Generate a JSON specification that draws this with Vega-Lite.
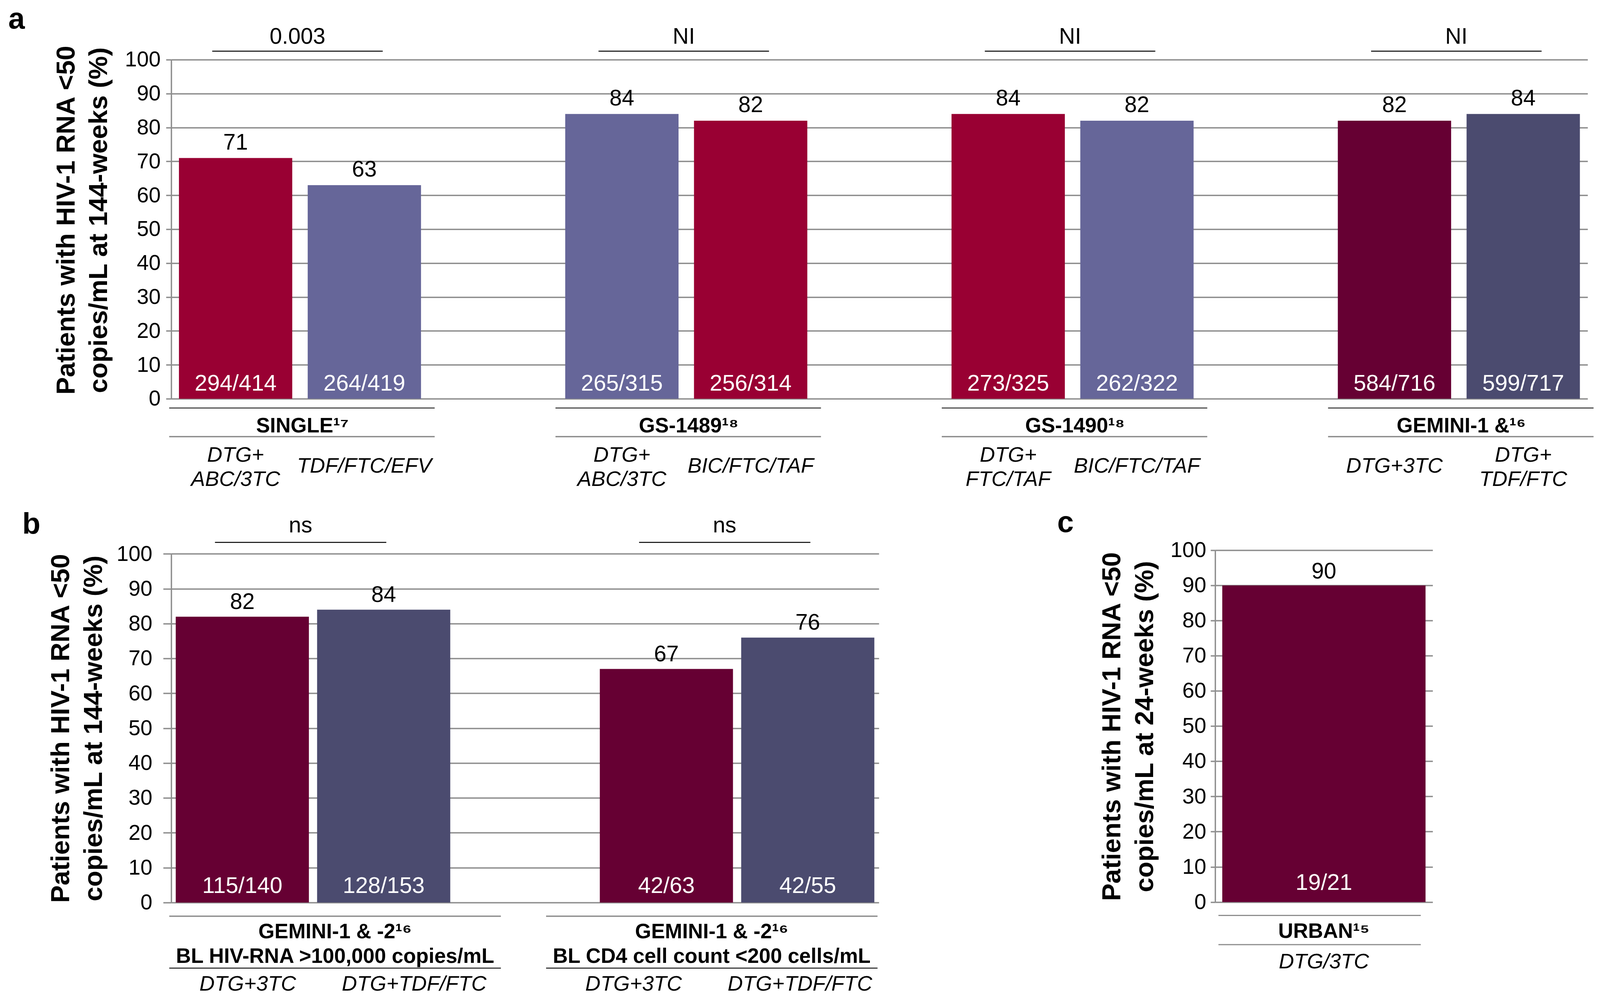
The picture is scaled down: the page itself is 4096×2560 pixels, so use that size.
{
  "$schema": "https://vega.github.io/schema/vega-lite/v6.json",
  "autosize": {"type": "none"},
  "padding": {"left": 438.3, "top": 152.8, "right": 3657.7, "bottom": 2407.2},
  "config": {"view": {"stroke": null}, "text": {"font": "Liberation Sans"}, "title": {"font": "Liberation Sans"}},
  "resolve": {"scale": {"color": "independent"}},
  "datasets": {
    "a_bars": [
      {"id": "SINGLE DTG+ABC/3TC", "grp": "SINGLE", "treat": ["DTG+", "ABC/3TC"], "pct": 71, "n": "294/414"},
      {"id": "SINGLE TDF/FTC/EFV", "grp": "SINGLE", "treat": "TDF/FTC/EFV", "pct": 63, "n": "264/419"},
      {"id": "GS-1489 DTG+ABC/3TC", "grp": "GS-1489", "treat": ["DTG+", "ABC/3TC"], "pct": 84, "n": "265/315"},
      {"id": "GS-1489 BIC/FTC/TAF", "grp": "GS-1489", "treat": "BIC/FTC/TAF", "pct": 82, "n": "256/314"},
      {"id": "GS-1490 DTG+FTC/TAF", "grp": "GS-1490", "treat": ["DTG+", "FTC/TAF"], "pct": 84, "n": "273/325"},
      {"id": "GS-1490 BIC/FTC/TAF", "grp": "GS-1490", "treat": "BIC/FTC/TAF", "pct": 82, "n": "262/322"},
      {"id": "GEMINI-1 DTG+3TC", "grp": "GEMINI-1 &", "treat": "DTG+3TC", "pct": 82, "n": "584/716"},
      {"id": "GEMINI-1 DTG+TDF/FTC", "grp": "GEMINI-1 &", "treat": ["DTG+", "TDF/FTC"], "pct": 84, "n": "599/717"}
    ],
    "a_groups": [
      {"grp": "SINGLE", "label": "SINGLE¹⁷", "a": "SINGLE DTG+ABC/3TC", "b": "SINGLE TDF/FTC/EFV", "test": "0.003"},
      {"grp": "GS-1489", "label": "GS-1489¹⁸", "a": "GS-1489 DTG+ABC/3TC", "b": "GS-1489 BIC/FTC/TAF", "test": "NI"},
      {"grp": "GS-1490", "label": "GS-1490¹⁸", "a": "GS-1490 DTG+FTC/TAF", "b": "GS-1490 BIC/FTC/TAF", "test": "NI"},
      {"grp": "GEMINI-1 &", "label": "GEMINI-1 &¹⁶", "a": "GEMINI-1 DTG+3TC", "b": "GEMINI-1 DTG+TDF/FTC", "test": "NI"}
    ],
    "b_bars": [
      {"id": "HIV DTG+3TC", "grp": "HIV", "treat": "DTG+3TC", "pct": 82, "n": "115/140"},
      {"id": "HIV DTG+TDF/FTC", "grp": "HIV", "treat": "DTG+TDF/FTC", "pct": 84, "n": "128/153"},
      {"id": "CD4 DTG+3TC", "grp": "CD4", "treat": "DTG+3TC", "pct": 67, "n": "42/63"},
      {"id": "CD4 DTG+TDF/FTC", "grp": "CD4", "treat": "DTG+TDF/FTC", "pct": 76, "n": "42/55"}
    ],
    "b_groups": [
      {"grp": "HIV", "label": ["GEMINI-1 & -2¹⁶", "BL HIV-RNA >100,000 copies/mL"], "a": "HIV DTG+3TC", "b": "HIV DTG+TDF/FTC", "test": "ns"},
      {"grp": "CD4", "label": ["GEMINI-1 & -2¹⁶", "BL CD4 cell count <200 cells/mL"], "a": "CD4 DTG+3TC", "b": "CD4 DTG+TDF/FTC", "test": "ns"}
    ],
    "c_bars": [
      {"id": "URBAN DTG/3TC", "grp": "URBAN", "label": "URBAN¹⁵", "treat": "DTG/3TC", "pct": 90, "n": "19/21"}
    ]
  },
  "spacing": 387.8,
  "bounds": "flush",
  "vconcat": [
    {
      "width": 3626,
      "height": 868,
      "title": {"text": "a", "anchor": "start", "frame": "group", "dx": -417, "dy": 83, "offset": 0, "baseline": "alphabetic", "fontSize": 76, "fontWeight": "bold", "color": "#000000"},
      "layer": [
        {
          "data": {"name": "a_bars"},
          "mark": {"type": "bar"},
          "encoding": {
            "x": {"field": "id", "type": "nominal", "axis": null, "scale": {"domain": ["SINGLE DTG+ABC/3TC", "SINGLE TDF/FTC/EFV", "gap1", "GS-1489 DTG+ABC/3TC", "GS-1489 BIC/FTC/TAF", "gap2", "GS-1490 DTG+FTC/TAF", "GS-1490 BIC/FTC/TAF", "gap3", "GEMINI-1 DTG+3TC", "GEMINI-1 DTG+TDF/FTC"], "paddingInner": 0.12, "paddingOuter": 0.06}},
            "y": {"field": "pct", "type": "quantitative", "scale": {"domain": [0, 100]},
              "axis": {"values": [0, 10, 20, 30, 40, 50, 60, 70, 80, 90, 100], "grid": true, "gridColor": "#8e8e8e", "gridWidth": 3.5, "domainColor": "#8e8e8e", "domainWidth": 3.5, "tickColor": "#8e8e8e", "tickWidth": 3.5, "tickSize": 13.4, "labelFontSize": 55, "labelFont": "Liberation Sans", "labelColor": "#000000", "labelPadding": 14,
                "title": ["Patients with HIV-1 RNA <50", "copies/mL at 144-weeks (%)"], "titleFont": "Liberation Sans", "titleFontSize": 67, "titleFontWeight": "bold", "titleColor": "#000000", "titleLineHeight": 83, "titleX": -268.3, "titleY": 410.5, "titleBaseline": "middle", "titleAlign": "center", "titleAngle": -90}},
            "color": {"field": "id", "type": "nominal", "legend": null, "scale": {"domain": ["SINGLE DTG+ABC/3TC", "SINGLE TDF/FTC/EFV", "GS-1489 DTG+ABC/3TC", "GS-1489 BIC/FTC/TAF", "GS-1490 DTG+FTC/TAF", "GS-1490 BIC/FTC/TAF", "GEMINI-1 DTG+3TC", "GEMINI-1 DTG+TDF/FTC"], "range": ["#990033", "#666699", "#666699", "#990033", "#990033", "#666699", "#660033", "#4b4b6f"]}}
          }
        },
        {
          "data": {"name": "a_bars"},
          "mark": {"type": "text", "dy": -22, "baseline": "alphabetic", "fontSize": 57, "color": "#000000"},
          "encoding": {
            "x": {"field": "id", "type": "nominal", "axis": null},
            "y": {"field": "pct", "type": "quantitative"},
            "text": {"field": "pct", "type": "quantitative"}
          }
        },
        {
          "data": {"name": "a_bars"},
          "mark": {"type": "text", "dy": -21, "baseline": "alphabetic", "fontSize": 58, "color": "#ffffff"},
          "encoding": {
            "x": {"field": "id", "type": "nominal", "axis": null},
            "y": {"datum": 0},
            "text": {"field": "n", "type": "nominal"}
          }
        },
        {
          "data": {"name": "a_bars"},
          "transform": [{"filter": "isArray(datum.treat)"}],
          "mark": {"type": "text", "dy": -23, "baseline": "middle", "fontSize": 54, "fontStyle": "italic", "lineHeight": 62, "color": "#000000"},
          "encoding": {
            "x": {"field": "id", "type": "nominal", "axis": null},
            "y": {"datum": -19.4},
            "text": {"field": "treat", "type": "nominal"}
          }
        },
        {
          "data": {"name": "a_bars"},
          "transform": [{"filter": "!isArray(datum.treat)"}],
          "mark": {"type": "text", "dy": 5, "baseline": "middle", "fontSize": 54, "fontStyle": "italic", "color": "#000000"},
          "encoding": {
            "x": {"field": "id", "type": "nominal", "axis": null},
            "y": {"datum": -19.4},
            "text": {"field": "treat", "type": "nominal"}
          }
        },
        {
          "data": {"name": "a_groups"},
          "mark": {"type": "rule", "xOffset": -59.8, "x2Offset": 47, "strokeWidth": 2.5, "color": "#000000"},
          "encoding": {
            "x": {"field": "a", "type": "nominal", "axis": null},
            "x2": {"field": "b"},
            "y": {"datum": 102.5}
          }
        },
        {
          "data": {"name": "a_groups"},
          "mark": {"type": "text", "xOffset": 158.5, "baseline": "alphabetic", "fontSize": 57, "color": "#000000"},
          "encoding": {
            "x": {"field": "a", "type": "nominal", "axis": null},
            "y": {"datum": 104.7},
            "text": {"field": "test", "type": "nominal"}
          }
        },
        {
          "data": {"name": "a_groups"},
          "mark": {"type": "rule", "xOffset": -170, "x2Offset": 180, "strokeWidth": 3, "color": "#505050"},
          "encoding": {
            "x": {"field": "a", "type": "nominal", "axis": null},
            "x2": {"field": "b"},
            "y": {"datum": -2.72}
          }
        },
        {
          "data": {"name": "a_groups"},
          "mark": {"type": "rule", "xOffset": -170, "x2Offset": 180, "strokeWidth": 3.5, "color": "#8e8e8e"},
          "encoding": {
            "x": {"field": "a", "type": "nominal", "axis": null},
            "x2": {"field": "b"},
            "y": {"datum": -11.16}
          }
        },
        {
          "data": {"name": "a_groups"},
          "mark": {"type": "text", "xOffset": 171, "baseline": "alphabetic", "fontSize": 53, "fontWeight": "bold", "color": "#000000"},
          "encoding": {
            "x": {"field": "a", "type": "nominal", "axis": null},
            "y": {"datum": -9.9},
            "text": {"field": "label", "type": "nominal"}
          }
        }
      ]
    },
    {
      "spacing": 860.5,
      "bounds": "flush",
      "hconcat": [
        {
          "width": 1811.6,
          "height": 901.9,
          "title": {"text": "b", "anchor": "start", "frame": "group", "dx": -381.3, "dy": 125, "offset": 0, "baseline": "alphabetic", "fontSize": 76, "fontWeight": "bold", "color": "#000000"},
          "layer": [
            {
              "data": {"name": "b_bars"},
              "mark": {"type": "bar"},
              "encoding": {
                "x": {"field": "id", "type": "nominal", "axis": null, "scale": {"domain": ["HIV DTG+3TC", "HIV DTG+TDF/FTC", "gap", "CD4 DTG+3TC", "CD4 DTG+TDF/FTC"], "paddingInner": 0.058, "paddingOuter": 0.032}},
                "y": {"field": "pct", "type": "quantitative", "scale": {"domain": [0, 100], "range": [901.9, 9.4]},
                  "axis": {"values": [0, 10, 20, 30, 40, 50, 60, 70, 80, 90, 100], "grid": true, "gridColor": "#8e8e8e", "gridWidth": 3.5, "domainColor": "#8e8e8e", "domainWidth": 3.5, "tickColor": "#8e8e8e", "tickWidth": 3.5, "tickSize": 20.6, "labelFontSize": 55, "labelFont": "Liberation Sans", "labelColor": "#000000", "labelPadding": 28,
                    "title": ["Patients with HIV-1 RNA <50", "copies/mL at 144-weeks (%)"], "titleFont": "Liberation Sans", "titleFontSize": 67, "titleFontWeight": "bold", "titleColor": "#000000", "titleLineHeight": 84, "titleX": -281.7, "titleY": 455.6, "titleBaseline": "middle", "titleAlign": "center", "titleAngle": -90}},
                "color": {"field": "id", "type": "nominal", "legend": null, "scale": {"domain": ["HIV DTG+3TC", "HIV DTG+TDF/FTC", "CD4 DTG+3TC", "CD4 DTG+TDF/FTC"], "range": ["#660033", "#4b4b6f", "#660033", "#4b4b6f"]}}
              }
            },
            {
              "data": {"name": "b_bars"},
              "mark": {"type": "text", "dy": -20, "baseline": "alphabetic", "fontSize": 57, "color": "#000000"},
              "encoding": {
                "x": {"field": "id", "type": "nominal", "axis": null},
                "y": {"field": "pct", "type": "quantitative"},
                "text": {"field": "pct", "type": "quantitative"}
              }
            },
            {
              "data": {"name": "b_bars"},
              "mark": {"type": "text", "dy": -25, "baseline": "alphabetic", "fontSize": 58, "color": "#ffffff"},
              "encoding": {
                "x": {"field": "id", "type": "nominal", "axis": null},
                "y": {"datum": 0},
                "text": {"field": "n", "type": "nominal"}
              }
            },
            {
              "data": {"name": "b_bars"},
              "transform": [{"filter": "datum.id == 'HIV DTG+3TC'"}],
              "mark": {"type": "text", "xOffset": 14, "baseline": "middle", "fontSize": 54, "fontStyle": "italic", "color": "#000000"},
              "encoding": {
                "x": {"field": "id", "type": "nominal", "axis": null},
                "y": {"datum": -23.5},
                "text": {"field": "treat", "type": "nominal"}
              }
            },
            {
              "data": {"name": "b_bars"},
              "transform": [{"filter": "datum.id == 'HIV DTG+TDF/FTC'"}],
              "mark": {"type": "text", "xOffset": 78, "baseline": "middle", "fontSize": 54, "fontStyle": "italic", "color": "#000000"},
              "encoding": {
                "x": {"field": "id", "type": "nominal", "axis": null},
                "y": {"datum": -23.5},
                "text": {"field": "treat", "type": "nominal"}
              }
            },
            {
              "data": {"name": "b_bars"},
              "transform": [{"filter": "datum.id == 'CD4 DTG+3TC'"}],
              "mark": {"type": "text", "xOffset": -84, "baseline": "middle", "fontSize": 54, "fontStyle": "italic", "color": "#000000"},
              "encoding": {
                "x": {"field": "id", "type": "nominal", "axis": null},
                "y": {"datum": -23.5},
                "text": {"field": "treat", "type": "nominal"}
              }
            },
            {
              "data": {"name": "b_bars"},
              "transform": [{"filter": "datum.id == 'CD4 DTG+TDF/FTC'"}],
              "mark": {"type": "text", "xOffset": -20, "baseline": "middle", "fontSize": 54, "fontStyle": "italic", "color": "#000000"},
              "encoding": {
                "x": {"field": "id", "type": "nominal", "axis": null},
                "y": {"datum": -23.5},
                "text": {"field": "treat", "type": "nominal"}
              }
            },
            {
              "data": {"name": "b_groups"},
              "mark": {"type": "rule", "xOffset": -70, "x2Offset": 6.7, "strokeWidth": 2.5, "color": "#000000"},
              "encoding": {
                "x": {"field": "a", "type": "nominal", "axis": null},
                "x2": {"field": "b"},
                "y": {"datum": 103.3}
              }
            },
            {
              "data": {"name": "b_groups"},
              "mark": {"type": "text", "xOffset": 149, "baseline": "alphabetic", "fontSize": 57, "color": "#000000"},
              "encoding": {
                "x": {"field": "a", "type": "nominal", "axis": null},
                "y": {"datum": 106.2},
                "text": {"field": "test", "type": "nominal"}
              }
            },
            {
              "data": {"name": "b_groups"},
              "transform": [{"filter": "datum.grp == 'HIV'"}],
              "mark": {"type": "rule", "xOffset": -187, "x2Offset": 300, "strokeWidth": 3.5, "color": "#8e8e8e"},
              "encoding": {
                "x": {"field": "a", "type": "nominal", "axis": null},
                "x2": {"field": "b"},
                "y": {"datum": -3.93}
              }
            },
            {
              "data": {"name": "b_groups"},
              "transform": [{"filter": "datum.grp == 'HIV'"}],
              "mark": {"type": "rule", "xOffset": -187, "x2Offset": 300, "strokeWidth": 2.2, "color": "#000000"},
              "encoding": {
                "x": {"field": "a", "type": "nominal", "axis": null},
                "x2": {"field": "b"},
                "y": {"datum": -18.8}
              }
            },
            {
              "data": {"name": "b_groups"},
              "transform": [{"filter": "datum.grp == 'CD4'"}],
              "mark": {"type": "rule", "xOffset": -308, "x2Offset": 178.6, "strokeWidth": 3.5, "color": "#8e8e8e"},
              "encoding": {
                "x": {"field": "a", "type": "nominal", "axis": null},
                "x2": {"field": "b"},
                "y": {"datum": -3.93}
              }
            },
            {
              "data": {"name": "b_groups"},
              "transform": [{"filter": "datum.grp == 'CD4'"}],
              "mark": {"type": "rule", "xOffset": -308, "x2Offset": 178.6, "strokeWidth": 2.2, "color": "#000000"},
              "encoding": {
                "x": {"field": "a", "type": "nominal", "axis": null},
                "x2": {"field": "b"},
                "y": {"datum": -18.8}
              }
            },
            {
              "data": {"name": "b_groups"},
              "transform": [{"filter": "datum.grp == 'HIV'"}],
              "mark": {"type": "text", "xOffset": 237.5, "dy": -27, "baseline": "middle", "lineHeight": 63, "fontSize": 53, "fontWeight": "bold", "color": "#000000"},
              "encoding": {
                "x": {"field": "a", "type": "nominal", "axis": null},
                "y": {"datum": -11.52},
                "text": {"field": "label", "type": "nominal"}
              }
            },
            {
              "data": {"name": "b_groups"},
              "transform": [{"filter": "datum.grp == 'CD4'"}],
              "mark": {"type": "text", "xOffset": 116, "dy": -27, "baseline": "middle", "lineHeight": 63, "fontSize": 53, "fontWeight": "bold", "color": "#000000"},
              "encoding": {
                "x": {"field": "a", "type": "nominal", "axis": null},
                "y": {"datum": -11.52},
                "text": {"field": "label", "type": "nominal"}
              }
            }
          ]
        },
        {
          "width": 556.8,
          "height": 900.6,
          "title": {"text": "c", "anchor": "start", "frame": "group", "dx": -404.4, "dy": 56, "offset": 0, "baseline": "alphabetic", "fontSize": 76, "fontWeight": "bold", "color": "#000000"},
          "layer": [
            {
              "data": {"name": "c_bars"},
              "mark": {"type": "bar"},
              "encoding": {
                "x": {"field": "id", "type": "nominal", "axis": null, "scale": {"domain": ["URBAN DTG/3TC"], "paddingInner": 0, "paddingOuter": 0.035}},
                "y": {"field": "pct", "type": "quantitative", "scale": {"domain": [0, 100]},
                  "axis": {"values": [0, 10, 20, 30, 40, 50, 60, 70, 80, 90, 100], "grid": true, "gridColor": "#8e8e8e", "gridWidth": 3.5, "domainColor": "#8e8e8e", "domainWidth": 3.5, "tickColor": "#8e8e8e", "tickWidth": 3.5, "tickSize": 11.8, "labelFontSize": 55, "labelFont": "Liberation Sans", "labelColor": "#000000", "labelPadding": 11.5,
                    "title": ["Patients with HIV-1 RNA <50", "copies/mL at 24-weeks (%)"], "titleFont": "Liberation Sans", "titleFontSize": 67, "titleFontWeight": "bold", "titleColor": "#000000", "titleLineHeight": 84, "titleX": -263.4, "titleY": 451, "titleBaseline": "middle", "titleAlign": "center", "titleAngle": -90}},
                "color": {"field": "id", "type": "nominal", "legend": null, "scale": {"domain": ["URBAN DTG/3TC"], "range": ["#660033"]}}
              }
            },
            {
              "data": {"name": "c_bars"},
              "mark": {"type": "text", "dy": -18, "baseline": "alphabetic", "fontSize": 57, "color": "#000000"},
              "encoding": {
                "x": {"field": "id", "type": "nominal", "axis": null},
                "y": {"field": "pct", "type": "quantitative"},
                "text": {"field": "pct", "type": "quantitative"}
              }
            },
            {
              "data": {"name": "c_bars"},
              "mark": {"type": "text", "dy": -31, "baseline": "alphabetic", "fontSize": 58, "color": "#ffffff"},
              "encoding": {
                "x": {"field": "id", "type": "nominal", "axis": null},
                "y": {"datum": 0},
                "text": {"field": "n", "type": "nominal"}
              }
            },
            {
              "data": {"name": "c_bars"},
              "mark": {"type": "rule", "xOffset": -270, "x2Offset": 248, "strokeWidth": 3, "color": "#8e8e8e"},
              "encoding": {
                "x": {"field": "id", "type": "nominal", "axis": null},
                "x2": {"field": "id"},
                "y": {"datum": -3.82}
              }
            },
            {
              "data": {"name": "c_bars"},
              "mark": {"type": "rule", "xOffset": -270, "x2Offset": 248, "strokeWidth": 3, "color": "#8e8e8e"},
              "encoding": {
                "x": {"field": "id", "type": "nominal", "axis": null},
                "x2": {"field": "id"},
                "y": {"datum": -12.1}
              }
            },
            {
              "data": {"name": "c_bars"},
              "mark": {"type": "text", "baseline": "alphabetic", "fontSize": 53, "fontWeight": "bold", "color": "#000000"},
              "encoding": {
                "x": {"field": "id", "type": "nominal", "axis": null},
                "y": {"datum": -10.2},
                "text": {"field": "label", "type": "nominal"}
              }
            },
            {
              "data": {"name": "c_bars"},
              "mark": {"type": "text", "baseline": "middle", "fontSize": 54, "fontStyle": "italic", "color": "#000000"},
              "encoding": {
                "x": {"field": "id", "type": "nominal", "axis": null},
                "y": {"datum": -17.1},
                "text": {"field": "treat", "type": "nominal"}
              }
            }
          ]
        }
      ]
    }
  ]
}
